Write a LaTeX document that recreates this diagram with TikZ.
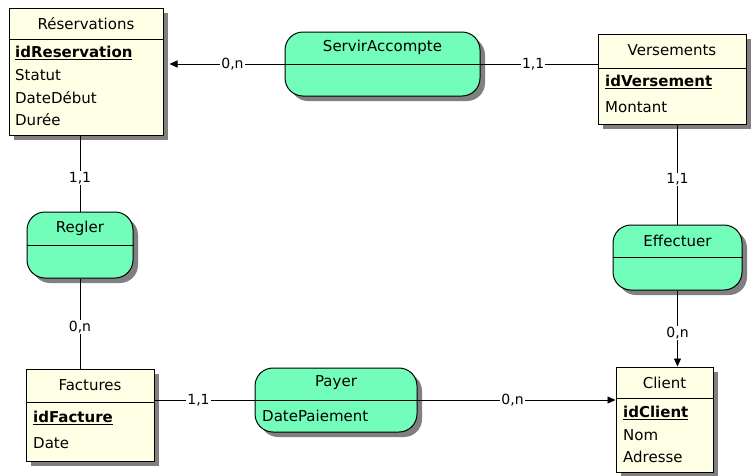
\documentclass[tikz,border=0pt]{standalone}
\usepackage{fontspec}
\setmainfont{DejaVu Sans}
\usetikzlibrary{arrows.meta,shadows}
\definecolor{entfill}{HTML}{FFFFE6}
\definecolor{relfill}{HTML}{73FDBA}
\definecolor{shadowgray}{HTML}{808080}
\tikzset{
  shd/.style={drop shadow={shadow xshift=5pt,shadow yshift=-5pt,fill=shadowgray,opacity=1}},
  entity/.style={draw=black,line width=1pt,fill=entfill,shd,inner sep=0pt},
  relation/.style={draw=black,line width=1pt,fill=relfill,shd,rounded corners=18pt,inner sep=0pt},
  title/.style={font=\fontsize{15}{17}\selectfont,inner sep=0pt},
  attr/.style={font=\fontsize{15}{17}\selectfont,anchor=west,inner sep=0pt},
  sepline/.style={line width=1pt},
  conn/.style={line width=0.9pt},
  arr/.style={conn,-{Triangle[length=8pt,width=7pt]}},
  card/.style={font=\fontsize{14}{16}\selectfont,fill=white,inner sep=1pt},
}
\begin{document}
\begin{tikzpicture}[x=1pt,y=-1pt]
\useasboundingbox (0,0) rectangle (752,475);

% Entities
\node[entity,minimum width=154pt,minimum height=127pt] (res) at (86,71.5) {};
\draw[sepline] (res.west |- 0,39) -- (res.east |- 0,39);
\node[title] (restitle) at (86,24) {Réservations};
\node[attr] (resa1) at (15,53) {\underline{\textbf{idReservation}}};
\node[attr] (resa2) at (15,75) {Statut};
\node[attr] (resa3) at (15,98) {DateDébut};
\node[attr] (resa4) at (15,120) {Durée};

\node[entity,minimum width=148pt,minimum height=90pt] (vers) at (672,79) {};
\draw[sepline] (vers.west |- 0,68) -- (vers.east |- 0,68);
\node[title] (verstitle) at (672,50) {Versements};
\node[attr] (versa1) at (605,82) {\underline{\textbf{idVersement}}};
\node[attr] (versa2) at (605,107) {Montant};

\node[entity,minimum width=97pt,minimum height=105pt] (cli) at (664.5,419.5) {};
\draw[sepline] (cli.west |- 0,398) -- (cli.east |- 0,398);
\node[title] (clititle) at (664.5,383) {Client};
\node[attr] (clia1) at (623,413) {\underline{\textbf{idClient}}};
\node[attr] (clia2) at (623,435) {Nom};
\node[attr] (clia3) at (623,457) {Adresse};

\node[entity,minimum width=128pt,minimum height=92pt] (fac) at (90,415) {};
\draw[sepline] (fac.west |- 0,402) -- (fac.east |- 0,402);
\node[title] (factitle) at (90,385) {Factures};
\node[attr] (faca1) at (33,418) {\underline{\textbf{idFacture}}};
\node[attr] (faca2) at (33,443) {Date};

% Relations
\node[relation,minimum width=195pt,minimum height=64pt] (sa) at (382.5,64) {};
\draw[sepline] (sa.west) -- (sa.east);
\node[title] (satitle) at (382.5,47) {ServirAccompte};

\node[relation,minimum width=129pt,minimum height=65pt] (eff) at (677.5,257.5) {};
\draw[sepline] (eff.west) -- (eff.east);
\node[title] (efftitle) at (677.5,241) {Effectuer};

\node[relation,minimum width=106pt,minimum height=66pt] (reg) at (80,245) {};
\draw[sepline] (reg.west) -- (reg.east);
\node[title] (regtitle) at (80,228) {Regler};

\node[relation,minimum width=162pt,minimum height=64pt] (pay) at (336,400) {};
\draw[sepline] (pay.west) -- (pay.east);
\node[title] (paytitle) at (336,383) {Payer};
\node[attr] (paya1) at (262,416) {DatePaiement};

% Connectors
\draw[arr,shorten >=6pt] (sa.west) -- (sa.west -| res.east)
  node[card,pos=0.43] (c1) {0,n};
\draw[conn] (sa.east) -- (sa.east -| vers.west)
  node[card,pos=0.45] (c2) {1,1};
\draw[conn] (eff.north) -- (eff.north |- vers.south)
  node[card,pos=0.45] (c3) {1,1};
\draw[arr] (eff.south) -- (eff.south |- cli.north)
  node[card,pos=0.56] (c4) {0,n};
\draw[conn] (reg.north) -- (reg.north |- res.south)
  node[card,pos=0.44] (c5) {1,1};
\draw[conn] (reg.south) -- (reg.south |- fac.north)
  node[card,pos=0.54] (c6) {0,n};
\draw[conn] (pay.west) -- (pay.west -| fac.east)
  node[card,pos=0.56] (c7) {1,1};
\draw[arr] (pay.east) -- (pay.east -| cli.west)
  node[card,pos=0.48] (c8) {0,n};
\end{tikzpicture}
\end{document}
